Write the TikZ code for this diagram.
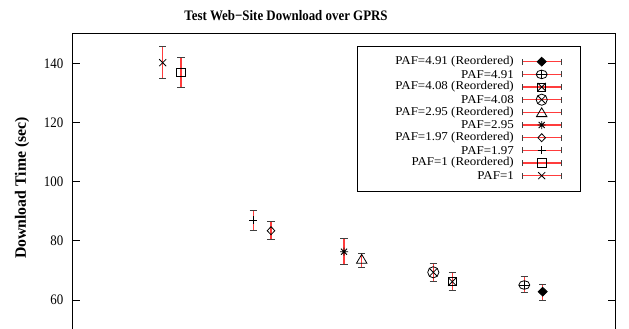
\documentclass[tikz,border=0pt]{standalone}
\usepackage{fontspec}
\setmainfont{Liberation Serif}
\usepackage{graphicx}
\newcommand{\tx}[1]{\scalebox{0.89}[1]{#1}}
\newcommand{\lx}[1]{\scalebox{1.08}[1]{#1}}
\definecolor{ebred}{RGB}{255,60,60}
\tikzset{
  lbl/.style={font=\fontsize{14.5}{16}\selectfont, inner sep=0pt},
  leglbl/.style={font=\fontsize{12}{13}\selectfont, inner sep=0pt},
  boldlbl/.style={font=\fontsize{14.5}{16}\selectfont\bfseries, inner sep=0pt},
  frame/.style={draw=black, line width=0.9pt},
  tickln/.style={draw=black, line width=0.8pt},
  errline/.style={draw=ebred, line width=1.1pt},
  barcap/.style={draw=black!75, line width=0.9pt},
  mk/.style={draw=black, line width=0.8pt},
  pics/mcross/.style={code={\draw[mk] (-3.5,-3.5)--(3.5,3.5) (-3.5,3.5)--(3.5,-3.5);}},
  pics/msquare/.style={code={\draw[mk] (-4.2,-4.2) rectangle (4.2,4.2);}},
  pics/mplus/.style={code={\draw[mk] (-4,0)--(4,0) (0,-4)--(0,4);}},
  pics/mdiam/.style={code={\draw[mk] (-3.8,0)--(0,-4)--(3.8,0)--(0,4)--cycle;}},
  pics/mstar/.style={code={\draw[mk] (-4,0)--(4,0) (0,-4)--(0,4) (-3,-3)--(3,3) (-3,3)--(3,-3);}},
  pics/mtri/.style={code={\draw[mk] (-5.2,4.2)--(0,-4.6)--(5.2,4.2)--cycle;}},
  pics/mcircx/.style={code={\draw[mk] (0,0) circle[radius=5.6]; \draw[mk] (-4,-4)--(4,4) (-4,4)--(4,-4);}},
  pics/msqx/.style={code={\draw[mk] (-4.1,-4.1) rectangle (4.1,4.1); \draw[mk] (-4.1,-4.1)--(4.1,4.1) (-4.1,4.1)--(4.1,-4.1);}},
  pics/mcircp/.style={code={\draw[mk] (0,0) ellipse[x radius=5.5, y radius=4.3]; \draw[mk] (-5.5,0)--(5.5,0) (0,-4.3)--(0,4.3);}},
  pics/mfdiam/.style={code={\filldraw[mk, fill=black] (-4.5,0)--(0,-4.4)--(4.5,0)--(0,4.4)--cycle;}},
}
\newcommand{\ebar}[4]{% name x top bottom
  \coordinate (#1t) at (#2,#3);
  \coordinate (#1b) at (#2,#4);
  \draw[errline] (#1t) -- (#1b);
  \draw[barcap] ([xshift=-3.7pt]#1t) -- ([xshift=3.7pt]#1t);
  \draw[barcap] ([xshift=-3.7pt]#1b) -- ([xshift=3.7pt]#1b);
}
\newcommand{\lrow}[3]{% name y text
  \node[leglbl, anchor=east] (#1txt) at (514,#2) {\lx{#3}};
  \coordinate (#1l) at (522.7,#2);
  \coordinate (#1r) at (561,#2);
  \coordinate (#1m) at (541.7,#2);
  \draw[errline] (#1l) -- (#1r);
  \draw[barcap] ([yshift=-3pt]#1l) -- ([yshift=3pt]#1l);
  \draw[barcap] ([yshift=-3pt]#1r) -- ([yshift=3pt]#1r);
}
\begin{document}
\begin{tikzpicture}[x=1pt, y=-1pt]
\useasboundingbox (0,0) rectangle (629,329);
\clip (0,0) rectangle (629,329);
% title and axis label
\node[boldlbl] (title) at (286,16) {\tx{Test Web\raisebox{0.05em}{−}Site Download over GPRS}};
\node[boldlbl, font=\fontsize{15.8}{17}\selectfont\bfseries, rotate=90] (ylab) at (22,188) {Download Time (sec)};
% frame
\coordinate (bl) at (72.7,335);
\coordinate (tl) at (72.7,33.5);
\coordinate (tr) at (615,33.5);
\coordinate (br) at (615,335);
\draw[frame] (bl) -- (tl) -- (tr) -- (br);
% ticks
\foreach \v/\yy in {140/63.3,120/122.5,100/181.6,80/240.7,60/299.9}{
  \coordinate (L\v) at (72.7,\yy);
  \coordinate (R\v) at (615,\yy);
  \draw[tickln] (L\v) -- ++(7,0);
  \draw[tickln] (R\v) -- ++(-7,0);
  \node[lbl, anchor=east] (n\v) at (63.5,\yy) {\tx{\v}};
}
% data
\ebar{a}{162.7}{46.7}{78.7}   \pic at (162.7,62.7) {mcross};
\ebar{b}{181}{57.7}{87.3}     \pic at (181,72.7) {msquare};
\ebar{c}{253.3}{210}{230}     \pic at (253.3,220) {mplus};
\ebar{d}{271}{221.3}{239}     \pic at (271,230.7) {mdiam};
\ebar{e}{344}{238}{264.3}     \pic at (344,251.7) {mstar};
\ebar{f}{361.7}{253.7}{267.3} \pic at (361.7,259) {mtri};
\ebar{g}{433.3}{263.3}{281.7} \pic at (433.3,272.3) {mcircx};
\ebar{h}{452.3}{272.7}{290.3} \pic at (452.3,281.7) {msqx};
\ebar{i}{524.3}{276.7}{292.3} \pic at (524.3,285) {mcircp};
\ebar{j}{542.7}{284}{300}     \pic at (542.7,291.7) {mfdiam};
% legend
\coordinate (lg1) at (357.3,46.7);
\coordinate (lg2) at (580,191.7);
\draw[frame, line width=0.8pt] (lg1) rectangle (lg2);
\lrow{r1}{61.7}{PAF=4.91 (Reordered)}  \pic at (r1m) {mfdiam};
\lrow{r2}{74.4}{PAF=4.91}              \pic at (r2m) {mcircp};
\lrow{r3}{87.0}{PAF=4.08 (Reordered)}  \pic at (r3m) {msqx};
\lrow{r4}{99.7}{PAF=4.08}              \pic at (r4m) {mcircx};
\lrow{r5}{112.4}{PAF=2.95 (Reordered)} \pic at (r5m) {mtri};
\lrow{r6}{125.0}{PAF=2.95}             \pic at (r6m) {mstar};
\lrow{r7}{137.7}{PAF=1.97 (Reordered)} \pic at (r7m) {mdiam};
\lrow{r8}{150.4}{PAF=1.97}             \pic at (r8m) {mplus};
\lrow{r9}{163.0}{PAF=1 (Reordered)}    \pic at (r9m) {msquare};
\lrow{r10}{175.7}{PAF=1}               \pic at (r10m) {mcross};
\end{tikzpicture}
\end{document}
